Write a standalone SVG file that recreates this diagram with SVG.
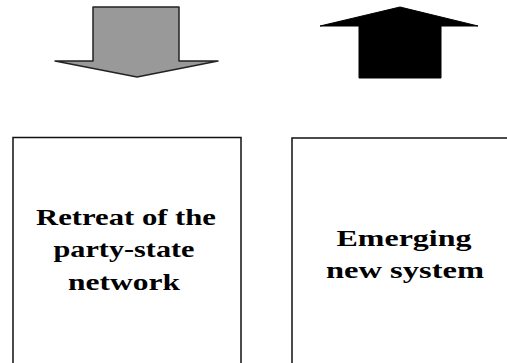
<svg xmlns="http://www.w3.org/2000/svg" width="507" height="363" viewBox="0 0 507 363">
<style>
.box{fill:#fff;stroke:#111;stroke-width:1.5}
.t{font-family:"Liberation Serif","Times New Roman",serif;font-weight:bold;font-size:23px;fill:#000;text-anchor:middle}
</style>
<rect width="507" height="363" fill="#fff"/>
<g id="arrow-down">
<polygon points="93,7 179,7 179,61 218,61 137,77 55,61 93,61" fill="#999" stroke="#222" stroke-width="1.5" stroke-linejoin="round"/>
</g>
<g id="arrow-up">
<polygon points="400,7 478,26 441,26 441,78 359,78 359,26 320,26" fill="#000" stroke="#000" stroke-width="1"/>
</g>
<g id="node-retreat">
<rect class="box" x="13" y="137.5" width="228" height="240"/>
<text class="t" x="126" y="225" textLength="180" lengthAdjust="spacingAndGlyphs">Retreat of the</text>
<text class="t" x="124" y="257" textLength="141" lengthAdjust="spacingAndGlyphs">party-state</text>
<text class="t" x="124" y="290" textLength="112" lengthAdjust="spacingAndGlyphs">network</text>
</g>
<g id="node-emerging">
<rect class="box" x="292" y="138" width="240" height="240"/>
<text class="t" x="404" y="246" textLength="135" lengthAdjust="spacingAndGlyphs">Emerging</text>
<text class="t" x="405" y="278" textLength="158" lengthAdjust="spacingAndGlyphs">new system</text>
</g>
</svg>
